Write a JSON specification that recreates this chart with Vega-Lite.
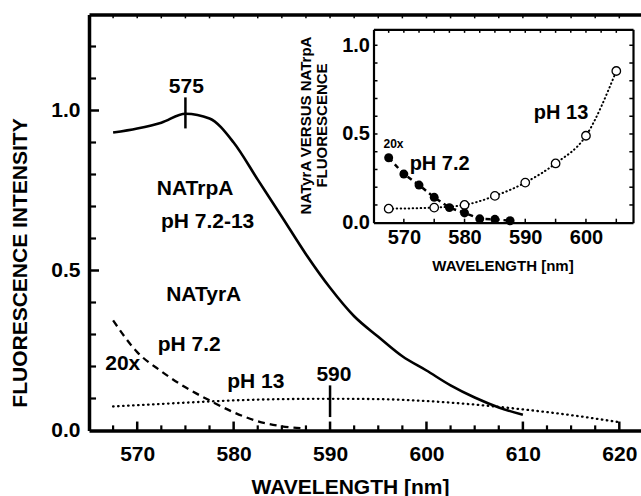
{
  "$schema": "https://vega.github.io/schema/vega-lite/v6.json",
  "width": 552,
  "height": 416,
  "autosize": {"type": "none"},
  "padding": {"left": 89, "top": 14.5, "right": 0, "bottom": 65.5},
  "background": "white",
  "config": {
    "view": {"stroke": null},
    "font": "Liberation Sans",
    "axis": {
      "grid": false,
      "ticks": false,
      "domainColor": "black",
      "labelColor": "black",
      "titleColor": "black",
      "labelFont": "Liberation Sans",
      "titleFont": "Liberation Sans",
      "labelFontWeight": "bold",
      "titleFontWeight": "bold",
      "labelOverlap": false,
      "labelFlush": false,
      "labelBound": false
    },
    "text": {"font": "Liberation Sans", "fontWeight": "bold", "color": "black"}
  },
  "datasets": {
    "solid": [
      {"wl": 567.5, "v": 0.931}, {"wl": 570, "v": 0.944}, {"wl": 572.5, "v": 0.962},
      {"wl": 575, "v": 0.99}, {"wl": 577.5, "v": 0.975}, {"wl": 580, "v": 0.9},
      {"wl": 582.5, "v": 0.784}, {"wl": 585, "v": 0.668}, {"wl": 587.5, "v": 0.551},
      {"wl": 590, "v": 0.446}, {"wl": 592.5, "v": 0.357}, {"wl": 595, "v": 0.293},
      {"wl": 597.5, "v": 0.232}, {"wl": 600, "v": 0.1875}, {"wl": 602.5, "v": 0.141},
      {"wl": 605, "v": 0.103}, {"wl": 607.5, "v": 0.072}, {"wl": 610, "v": 0.049}
    ],
    "dashed": [
      {"wl": 567.5, "v": 0.344}, {"wl": 570, "v": 0.245}, {"wl": 572.5, "v": 0.185},
      {"wl": 575, "v": 0.135}, {"wl": 577.5, "v": 0.094}, {"wl": 580, "v": 0.057},
      {"wl": 582.5, "v": 0.029}, {"wl": 585, "v": 0.013}, {"wl": 587.5, "v": 0.006}
    ],
    "dotted": [
      {"wl": 567.5, "v": 0.075}, {"wl": 570, "v": 0.079}, {"wl": 575, "v": 0.087},
      {"wl": 580, "v": 0.094}, {"wl": 585, "v": 0.098}, {"wl": 590, "v": 0.099},
      {"wl": 595, "v": 0.098}, {"wl": 600, "v": 0.092}, {"wl": 605, "v": 0.081},
      {"wl": 610, "v": 0.066}, {"wl": 615, "v": 0.048}, {"wl": 620, "v": 0.026}
    ],
    "peaks": [
      {"wl": 575, "lo": 0.944, "hi": 1.041},
      {"wl": 590, "lo": 0.042, "hi": 0.141}
    ],
    "mainText": [
      {"t": "575", "x": 575.1, "y": 1.074},
      {"t": "590", "x": 590.4, "y": 0.175},
      {"t": "NATrpA", "x": 576.0, "y": 0.755},
      {"t": "pH 7.2-13", "x": 577.3, "y": 0.651},
      {"t": "NATyrA", "x": 576.9, "y": 0.422},
      {"t": "20x", "x": 568.5, "y": 0.208},
      {"t": "pH 7.2", "x": 575.4, "y": 0.266},
      {"t": "pH 13", "x": 582.3, "y": 0.151}
    ],
    "inset13": [
      {"wl": 567.5, "r": 0.079}, {"wl": 575, "r": 0.085}, {"wl": 580, "r": 0.1},
      {"wl": 585, "r": 0.151}, {"wl": 590, "r": 0.226}, {"wl": 595, "r": 0.334},
      {"wl": 600, "r": 0.49}, {"wl": 605, "r": 0.855}
    ],
    "inset72": [
      {"wl": 567.5, "r": 0.366}, {"wl": 570, "r": 0.274}, {"wl": 572.5, "r": 0.212},
      {"wl": 575, "r": 0.143}, {"wl": 577.5, "r": 0.085}, {"wl": 580, "r": 0.055},
      {"wl": 582.5, "r": 0.022}, {"wl": 585, "r": 0.019}, {"wl": 587.5, "r": 0.011}
    ],
    "insetText": [
      {"t": "20x", "x": 568.3, "y": 0.444},
      {"t": "pH 7.2", "x": 575.9, "y": 0.332},
      {"t": "pH 13", "x": 595.9, "y": 0.621}
    ],
    "mainXMajor": [
      {"v": 570, "a": 0, "b": 0.028}, {"v": 580, "a": 0, "b": 0.028}, {"v": 590, "a": 0, "b": 0.028},
      {"v": 600, "a": 0, "b": 0.028}, {"v": 610, "a": 0, "b": 0.028}, {"v": 620, "a": 0, "b": 0.028}
    ],
    "mainXMinor": [
      {"v": 567.5, "a": 0, "b": 0.016}, {"v": 572.5, "a": 0, "b": 0.016}, {"v": 575, "a": 0, "b": 0.016},
      {"v": 577.5, "a": 0, "b": 0.016}, {"v": 582.5, "a": 0, "b": 0.016}, {"v": 585, "a": 0, "b": 0.016},
      {"v": 587.5, "a": 0, "b": 0.016}, {"v": 592.5, "a": 0, "b": 0.016}, {"v": 595, "a": 0, "b": 0.016},
      {"v": 597.5, "a": 0, "b": 0.016}, {"v": 602.5, "a": 0, "b": 0.016}, {"v": 605, "a": 0, "b": 0.016},
      {"v": 607.5, "a": 0, "b": 0.016}, {"v": 612.5, "a": 0, "b": 0.016}, {"v": 615, "a": 0, "b": 0.016},
      {"v": 617.5, "a": 0, "b": 0.016}
    ],
    "mainXTop": [
      {"v": 567.5, "a": 1.3, "b": 1.288}, {"v": 570, "a": 1.3, "b": 1.288}, {"v": 572.5, "a": 1.3, "b": 1.288},
      {"v": 575, "a": 1.3, "b": 1.288}, {"v": 577.5, "a": 1.3, "b": 1.288}, {"v": 580, "a": 1.3, "b": 1.288},
      {"v": 582.5, "a": 1.3, "b": 1.288}, {"v": 585, "a": 1.3, "b": 1.288}, {"v": 587.5, "a": 1.3, "b": 1.288},
      {"v": 590, "a": 1.3, "b": 1.288}, {"v": 592.5, "a": 1.3, "b": 1.288}, {"v": 595, "a": 1.3, "b": 1.288},
      {"v": 597.5, "a": 1.3, "b": 1.288}, {"v": 600, "a": 1.3, "b": 1.288}, {"v": 602.5, "a": 1.3, "b": 1.288},
      {"v": 605, "a": 1.3, "b": 1.288}, {"v": 607.5, "a": 1.3, "b": 1.288}, {"v": 610, "a": 1.3, "b": 1.288},
      {"v": 612.5, "a": 1.3, "b": 1.288}, {"v": 615, "a": 1.3, "b": 1.288}, {"v": 617.5, "a": 1.3, "b": 1.288},
      {"v": 620, "a": 1.3, "b": 1.288}
    ],
    "mainYMajor": [
      {"v": 0.5, "a": 565, "b": 566.04}, {"v": 1.0, "a": 565, "b": 566.04}
    ],
    "mainYMinor": [
      {"v": 0.1, "a": 565, "b": 565.73}, {"v": 0.2, "a": 565, "b": 565.73}, {"v": 0.3, "a": 565, "b": 565.73},
      {"v": 0.4, "a": 565, "b": 565.73}, {"v": 0.6, "a": 565, "b": 565.73}, {"v": 0.7, "a": 565, "b": 565.73},
      {"v": 0.8, "a": 565, "b": 565.73}, {"v": 0.9, "a": 565, "b": 565.73}, {"v": 1.1, "a": 565, "b": 565.73},
      {"v": 1.2, "a": 565, "b": 565.73}
    ],
    "insetXBottom": [
      {"v": 570, "a": 0, "b": 0.0225}, {"v": 575, "a": 0, "b": 0.0225}, {"v": 580, "a": 0, "b": 0.0225},
      {"v": 585, "a": 0, "b": 0.0225}, {"v": 590, "a": 0, "b": 0.0225}, {"v": 595, "a": 0, "b": 0.0225},
      {"v": 600, "a": 0, "b": 0.0225}, {"v": 605, "a": 0, "b": 0.0225}
    ],
    "insetXTop": [
      {"v": 567.5, "a": 1.09, "b": 1.07}, {"v": 570, "a": 1.09, "b": 1.07}, {"v": 572.5, "a": 1.09, "b": 1.07},
      {"v": 575, "a": 1.09, "b": 1.07}, {"v": 577.5, "a": 1.09, "b": 1.07}, {"v": 580, "a": 1.09, "b": 1.07},
      {"v": 582.5, "a": 1.09, "b": 1.07}, {"v": 585, "a": 1.09, "b": 1.07}, {"v": 587.5, "a": 1.09, "b": 1.07},
      {"v": 590, "a": 1.09, "b": 1.07}, {"v": 592.5, "a": 1.09, "b": 1.07}, {"v": 595, "a": 1.09, "b": 1.07},
      {"v": 597.5, "a": 1.09, "b": 1.07}, {"v": 600, "a": 1.09, "b": 1.07}, {"v": 602.5, "a": 1.09, "b": 1.07},
      {"v": 605, "a": 1.09, "b": 1.07}
    ],
    "insetYLeft": [
      {"v": 0.1, "a": 565, "b": 565.66}, {"v": 0.2, "a": 565, "b": 565.66}, {"v": 0.3, "a": 565, "b": 565.66},
      {"v": 0.4, "a": 565, "b": 565.66}, {"v": 0.5, "a": 565, "b": 565.66}, {"v": 0.6, "a": 565, "b": 565.66},
      {"v": 0.7, "a": 565, "b": 565.66}, {"v": 0.8, "a": 565, "b": 565.66}, {"v": 0.9, "a": 565, "b": 565.66},
      {"v": 1.0, "a": 565, "b": 565.66}
    ],
    "insetYRight": [
      {"v": 0.1, "a": 607.75, "b": 607.15}, {"v": 0.2, "a": 607.75, "b": 607.15}, {"v": 0.3, "a": 607.75, "b": 607.15},
      {"v": 0.4, "a": 607.75, "b": 607.15}, {"v": 0.5, "a": 607.75, "b": 607.15}, {"v": 0.6, "a": 607.75, "b": 607.15},
      {"v": 0.7, "a": 607.75, "b": 607.15}, {"v": 0.8, "a": 607.75, "b": 607.15}, {"v": 0.9, "a": 607.75, "b": 607.15},
      {"v": 1.0, "a": 607.75, "b": 607.15}
    ]
  },
  "resolve": {
    "scale": {"x": "independent", "y": "independent"},
    "axis": {"x": "independent", "y": "independent"}
  },
  "layer": [
    {
      "data": {"name": "solid"},
      "mark": {"type": "line", "color": "black", "strokeWidth": 2.6, "interpolate": "monotone"},
      "encoding": {
        "x": {
          "field": "wl", "type": "quantitative",
          "scale": {"domain": [565, 622.25], "nice": false, "zero": false},
          "axis": {
            "orient": "bottom",
            "values": [570, 580, 590, 600, 610, 620],
            "domainWidth": 3.5,
            "labelFontSize": 21, "labelPadding": 13,
            "title": "WAVELENGTH [nm]", "titleFontSize": 21,
            "titleX": 261, "titleY": 56.5, "titleBaseline": "middle", "titleAlign": "center"
          }
        },
        "y": {
          "field": "v", "type": "quantitative",
          "scale": {"domain": [0, 1.3], "nice": false, "zero": false},
          "axis": {
            "orient": "left",
            "values": [0, 0.5, 1.0], "format": ".1f",
            "domainWidth": 3.5,
            "labelFontSize": 21, "labelPadding": 9,
            "title": "FLUORESCENCE INTENSITY", "titleFontSize": 21,
            "titleX": -69, "titleY": 248, "titleBaseline": "middle", "titleAlign": "center", "titleAngle": -90
          }
        }
      }
    },
    {
      "data": {"name": "dashed"},
      "mark": {"type": "line", "color": "black", "strokeWidth": 2.3, "strokeDash": [7, 5], "interpolate": "monotone"},
      "encoding": {
        "x": {"field": "wl", "type": "quantitative", "scale": {"domain": [565, 622.25], "nice": false, "zero": false}, "axis": null},
        "y": {"field": "v", "type": "quantitative", "scale": {"domain": [0, 1.3], "nice": false, "zero": false}, "axis": null}
      }
    },
    {
      "data": {"name": "dotted"},
      "mark": {"type": "line", "color": "black", "strokeWidth": 2.3, "strokeDash": [0.5, 4.5], "strokeCap": "round", "interpolate": "monotone"},
      "encoding": {
        "x": {
          "field": "wl", "type": "quantitative",
          "scale": {"domain": [565, 622.25], "nice": false, "zero": false},
          "axis": {
            "orient": "bottom", "offset": -416,
            "values": [570, 580, 590, 600, 610, 620],
            "domainWidth": 3.5, "labels": false, "title": null
          }
        },
        "y": {"field": "v", "type": "quantitative", "scale": {"domain": [0, 1.3], "nice": false, "zero": false}, "axis": null}
      }
    },
    {
      "data": {"name": "peaks"},
      "mark": {"type": "rule", "color": "black", "strokeWidth": 2.5},
      "encoding": {
        "x": {"field": "wl", "type": "quantitative", "scale": {"domain": [565, 622.25], "nice": false, "zero": false}, "axis": null},
        "y": {"field": "lo", "type": "quantitative", "scale": {"domain": [0, 1.3], "nice": false, "zero": false}, "axis": null},
        "y2": {"field": "hi"}
      }
    },
    {
      "data": {"name": "mainXMajor"},
      "mark": {"type": "rule", "color": "black", "strokeWidth": 2.5},
      "encoding": {
        "x": {"field": "v", "type": "quantitative", "scale": {"domain": [565, 622.25], "nice": false, "zero": false}, "axis": null},
        "y": {"field": "a", "type": "quantitative", "scale": {"domain": [0, 1.3], "nice": false, "zero": false}, "axis": null},
        "y2": {"field": "b"}
      }
    },
    {
      "data": {"name": "mainXMinor"},
      "mark": {"type": "rule", "color": "black", "strokeWidth": 2.2},
      "encoding": {
        "x": {"field": "v", "type": "quantitative", "scale": {"domain": [565, 622.25], "nice": false, "zero": false}, "axis": null},
        "y": {"field": "a", "type": "quantitative", "scale": {"domain": [0, 1.3], "nice": false, "zero": false}, "axis": null},
        "y2": {"field": "b"}
      }
    },
    {
      "data": {"name": "mainXTop"},
      "mark": {"type": "rule", "color": "black", "strokeWidth": 1.5},
      "encoding": {
        "x": {"field": "v", "type": "quantitative", "scale": {"domain": [565, 622.25], "nice": false, "zero": false}, "axis": null},
        "y": {"field": "a", "type": "quantitative", "scale": {"domain": [0, 1.3], "nice": false, "zero": false}, "axis": null},
        "y2": {"field": "b"}
      }
    },
    {
      "data": {"name": "mainYMajor"},
      "mark": {"type": "rule", "color": "black", "strokeWidth": 2.5},
      "encoding": {
        "x": {"field": "a", "type": "quantitative", "scale": {"domain": [565, 622.25], "nice": false, "zero": false}, "axis": null},
        "x2": {"field": "b"},
        "y": {"field": "v", "type": "quantitative", "scale": {"domain": [0, 1.3], "nice": false, "zero": false}, "axis": null}
      }
    },
    {
      "data": {"name": "mainYMinor"},
      "mark": {"type": "rule", "color": "black", "strokeWidth": 2.2},
      "encoding": {
        "x": {"field": "a", "type": "quantitative", "scale": {"domain": [565, 622.25], "nice": false, "zero": false}, "axis": null},
        "x2": {"field": "b"},
        "y": {"field": "v", "type": "quantitative", "scale": {"domain": [0, 1.3], "nice": false, "zero": false}, "axis": null}
      }
    },
    {
      "data": {"name": "mainText"},
      "mark": {"type": "text", "fontSize": 21, "align": "center", "baseline": "middle"},
      "encoding": {
        "x": {"field": "x", "type": "quantitative", "scale": {"domain": [565, 622.25], "nice": false, "zero": false}, "axis": null},
        "y": {"field": "y", "type": "quantitative", "scale": {"domain": [0, 1.3], "nice": false, "zero": false}, "axis": null},
        "text": {"field": "t"}
      }
    },
    {
      "data": {"name": "inset13"},
      "mark": {"type": "line", "color": "black", "strokeWidth": 2, "strokeDash": [0.5, 3.5], "strokeCap": "round", "interpolate": "monotone"},
      "encoding": {
        "x": {
          "field": "wl", "type": "quantitative",
          "scale": {"domain": [565, 607.75], "range": [284.5, 544], "nice": false, "zero": false},
          "axis": {
            "orient": "bottom", "offset": -207.8,
            "values": [570, 580, 590, 600],
            "domainWidth": 2.2,
            "labelFontSize": 20, "labelPadding": 4.5,
            "title": "WAVELENGTH [nm]", "titleFontSize": 15,
            "titleX": 413.5, "titleY": 42.3, "titleBaseline": "middle", "titleAlign": "center"
          }
        },
        "y": {
          "field": "r", "type": "quantitative",
          "scale": {"domain": [0, 1.09], "range": [208.2, 14.8], "nice": false, "zero": false},
          "axis": {
            "orient": "left", "offset": -284.5,
            "values": [0, 0.5, 1.0],
            "format": ".1f",
            "domainWidth": 2.2,
            "labelFontSize": 20, "labelPadding": 4,
            "title": ["NATyrA VERSUS NATrpA", "FLUORESCENCE"], "titleFontSize": 15, "titleLineHeight": 16.7,
            "titleX": -68.5, "titleY": 110.5, "titleBaseline": "middle", "titleAlign": "center", "titleAngle": -90
          }
        }
      }
    },
    {
      "data": {"name": "inset72"},
      "mark": {"type": "line", "color": "black", "strokeWidth": 2.5, "strokeDash": [5, 4]},
      "encoding": {
        "x": {
          "field": "wl", "type": "quantitative",
          "scale": {"domain": [565, 607.75], "range": [284.5, 544], "nice": false, "zero": false},
          "axis": {
            "orient": "bottom", "offset": -401.2,
            "values": [570, 580, 590, 600],
            "domainWidth": 2.2, "labels": false, "title": null
          }
        },
        "y": {
          "field": "r", "type": "quantitative",
          "scale": {"domain": [0, 1.09], "range": [208.2, 14.8], "nice": false, "zero": false},
          "axis": {
            "orient": "left", "offset": -544,
            "values": [0, 0.5, 1.0],
            "domainWidth": 2.2, "labels": false, "title": null
          }
        }
      }
    },
    {
      "data": {"name": "inset13"},
      "mark": {"type": "point", "shape": "circle", "filled": true, "fill": "white", "stroke": "black", "strokeWidth": 1.3, "size": 72, "opacity": 1},
      "encoding": {
        "x": {"field": "wl", "type": "quantitative", "scale": {"domain": [565, 607.75], "range": [284.5, 544], "nice": false, "zero": false}, "axis": null},
        "y": {"field": "r", "type": "quantitative", "scale": {"domain": [0, 1.09], "range": [208.2, 14.8], "nice": false, "zero": false}, "axis": null}
      }
    },
    {
      "data": {"name": "inset72"},
      "mark": {"type": "point", "shape": "circle", "filled": true, "color": "black", "size": 80, "opacity": 1},
      "encoding": {
        "x": {"field": "wl", "type": "quantitative", "scale": {"domain": [565, 607.75], "range": [284.5, 544], "nice": false, "zero": false}, "axis": null},
        "y": {"field": "r", "type": "quantitative", "scale": {"domain": [0, 1.09], "range": [208.2, 14.8], "nice": false, "zero": false}, "axis": null}
      }
    },
    {
      "data": {"name": "insetXBottom"},
      "mark": {"type": "rule", "color": "black", "strokeWidth": 1.5},
      "encoding": {
        "x": {"field": "v", "type": "quantitative", "scale": {"domain": [565, 607.75], "range": [284.5, 544], "nice": false, "zero": false}, "axis": null},
        "y": {"field": "a", "type": "quantitative", "scale": {"domain": [0, 1.09], "range": [208.2, 14.8], "nice": false, "zero": false}, "axis": null},
        "y2": {"field": "b"}
      }
    },
    {
      "data": {"name": "insetXTop"},
      "mark": {"type": "rule", "color": "black", "strokeWidth": 1.5},
      "encoding": {
        "x": {"field": "v", "type": "quantitative", "scale": {"domain": [565, 607.75], "range": [284.5, 544], "nice": false, "zero": false}, "axis": null},
        "y": {"field": "a", "type": "quantitative", "scale": {"domain": [0, 1.09], "range": [208.2, 14.8], "nice": false, "zero": false}, "axis": null},
        "y2": {"field": "b"}
      }
    },
    {
      "data": {"name": "insetYLeft"},
      "mark": {"type": "rule", "color": "black", "strokeWidth": 1.5},
      "encoding": {
        "x": {"field": "a", "type": "quantitative", "scale": {"domain": [565, 607.75], "range": [284.5, 544], "nice": false, "zero": false}, "axis": null},
        "x2": {"field": "b"},
        "y": {"field": "v", "type": "quantitative", "scale": {"domain": [0, 1.09], "range": [208.2, 14.8], "nice": false, "zero": false}, "axis": null}
      }
    },
    {
      "data": {"name": "insetYRight"},
      "mark": {"type": "rule", "color": "black", "strokeWidth": 1.5},
      "encoding": {
        "x": {"field": "a", "type": "quantitative", "scale": {"domain": [565, 607.75], "range": [284.5, 544], "nice": false, "zero": false}, "axis": null},
        "x2": {"field": "b"},
        "y": {"field": "v", "type": "quantitative", "scale": {"domain": [0, 1.09], "range": [208.2, 14.8], "nice": false, "zero": false}, "axis": null}
      }
    },
    {
      "data": {"name": "insetText"},
      "mark": {"type": "text", "align": "center", "baseline": "middle"},
      "encoding": {
        "x": {"field": "x", "type": "quantitative", "scale": {"domain": [565, 607.75], "range": [284.5, 544], "nice": false, "zero": false}, "axis": null},
        "y": {"field": "y", "type": "quantitative", "scale": {"domain": [0, 1.09], "range": [208.2, 14.8], "nice": false, "zero": false}, "axis": null},
        "text": {"field": "t"},
        "size": {"condition": {"test": "datum.t === '20x'", "value": 12}, "value": 20}
      }
    }
  ]
}
